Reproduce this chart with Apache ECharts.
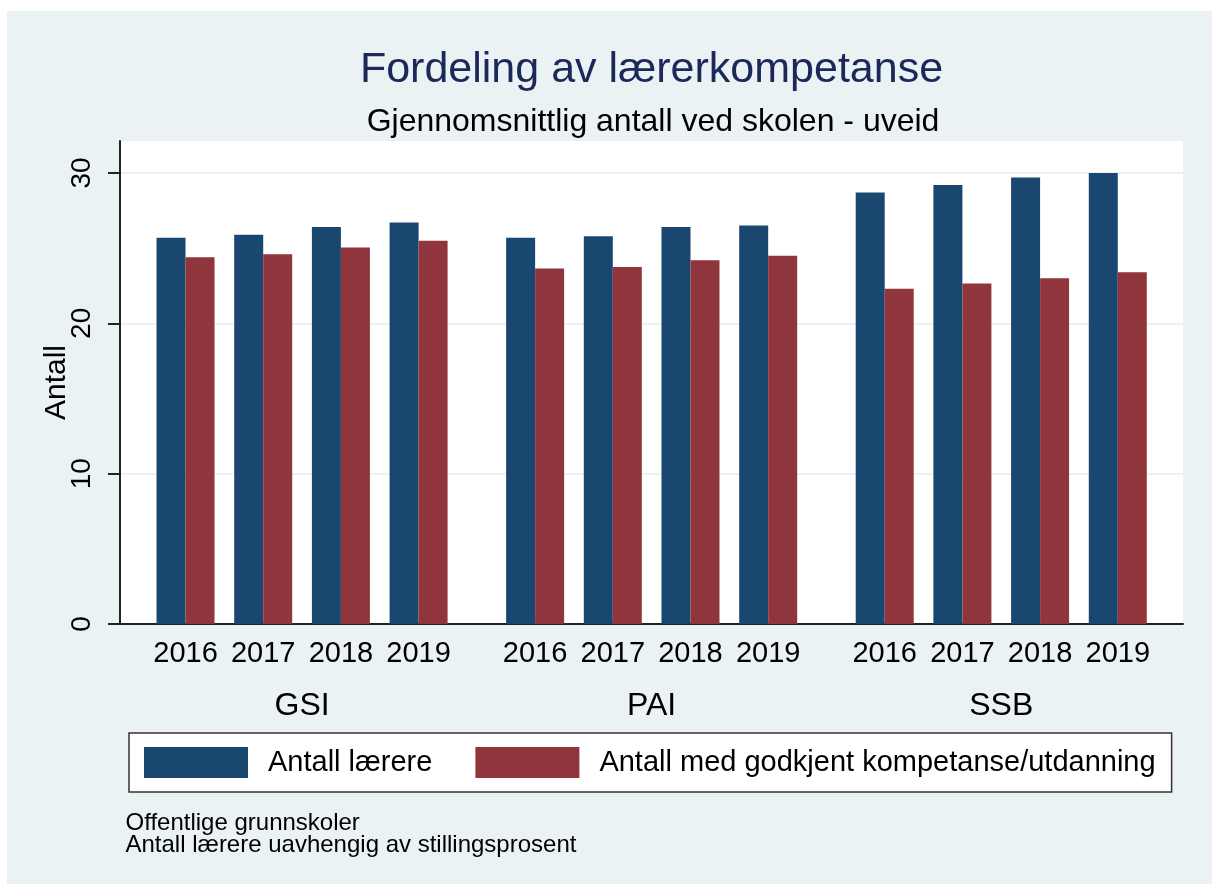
<!DOCTYPE html>
<html>
<head>
<meta charset="utf-8">
<script src="https://cdn.jsdelivr.net/npm/echarts@6/dist/echarts.min.js"></script>
<style>
  html, body { margin: 0; padding: 0; background: #fff; }
  #chart { position: absolute; left: 7px; top: 11px; width: 1205px; height: 873px; background: #EAF2F3; }
</style>
</head>
<body>
<div id="chart"></div>
<script>
  // data
  var groups = ['GSI', 'PAI', 'SSB'];
  var years = ['2016', '2017', '2018', '2019'];
  var laerere = [
    [25.7, 25.9, 26.4, 26.7],   // GSI
    [25.7, 25.8, 26.4, 26.5],   // PAI
    [28.7, 29.2, 29.7, 30.0]    // SSB
  ];
  var godkjent = [
    [24.4, 24.6, 25.05, 25.5],
    [23.65, 23.75, 24.2, 24.5],
    [22.3, 22.65, 23.0, 23.4]
  ];
  var yTicks = [0, 10, 20, 30];
  var seriesNames = ['Antall lærere', 'Antall med godkjent kompetanse/utdanning'];
  var notes = ['Offentlige grunnskoler', 'Antall lærere uavhengig av stillingsprosent'];

  // kategorier: år, mellomrom, år ... og to mellomrom mellom gruppene
  var cats = [], groupCats = [], s1 = [], s2 = [];
  groups.forEach(function (g, gi) {
    if (gi > 0) {
      for (var k = 0; k < 2; k++) { cats.push(''); groupCats.push(''); s1.push('-'); s2.push('-'); }
    }
    years.forEach(function (y, yi) {
      if (yi > 0) { cats.push(''); groupCats.push(''); s1.push('-'); s2.push('-'); }
      cats.push(y);
      groupCats.push('');
      s1.push(laerere[gi][yi]);
      s2.push(godkjent[gi][yi]);
    });
  });
  // gruppenavn midt i gruppen (mellomrommet mellom 2017 og 2018)
  groups.forEach(function (g, gi) { groupCats[gi * 9 + 3] = g; });

  var font = 'Liberation Sans, Arial, sans-serif';
  var dark = '#222';
  var chart = echarts.init(document.getElementById('chart'));
  chart.setOption({
    animation: false,
    textStyle: { fontFamily: font },
    title: [
      {
        text: 'Fordeling av lærerkompetanse',
        left: 639.5, top: 33, textAlign: 'center',
        textStyle: { fontSize: 43, fontWeight: 'normal', color: '#1c2859', fontFamily: font }
      },
      {
        text: 'Gjennomsnittlig antall ved skolen - uveid',
        left: 641, top: 90, textAlign: 'center',
        textStyle: { fontSize: 32, fontWeight: 'normal', color: '#000', fontFamily: font }
      },
      {
        text: notes.join('\n'),
        left: 118.5, top: 801, padding: 0,
        textStyle: { fontSize: 24, fontWeight: 'normal', color: '#000', lineHeight: 22, fontFamily: font }
      }
    ],
    legend: {
      left: 122, top: 722,
      padding: [14, 16, 14, 15],
      itemGap: 43,
      itemWidth: 104, itemHeight: 31,
      borderColor: '#333', borderWidth: 1.5,
      backgroundColor: '#fff',
      icon: 'rect',
      data: seriesNames,
      textStyle: { fontSize: 29, color: '#000', padding: [0, 0, 0, 15] }
    },
    grid: [
      // hvit plottflate
      { left: 113, top: 130, width: 1063, bottom: 260, show: true, backgroundColor: '#fff', borderWidth: 0 },
      // stolper
      { left: 159.1, right: 74.8, top: 162, bottom: 260 },
      // y-akse med skala
      { left: 113, top: 162, width: 1063, bottom: 260 }
    ],
    xAxis: [
      {
        gridIndex: 0, type: 'category', data: [''],
        axisLine: { lineStyle: { color: dark, width: 2 } },
        axisTick: { show: false }, axisLabel: { show: false }
      },
      {
        gridIndex: 1, type: 'category', data: cats,
        axisLine: { show: false }, axisTick: { show: false },
        axisLabel: { interval: 0, fontSize: 29, color: '#000', margin: 15 }
      },
      {
        gridIndex: 1, type: 'category', data: groupCats, position: 'bottom',
        axisLine: { show: false }, axisTick: { show: false },
        axisLabel: { interval: 0, fontSize: 32, color: '#000', margin: 66 }
      },
      {
        gridIndex: 2, type: 'category', data: [''], show: false
      }
    ],
    yAxis: [
      {
        gridIndex: 0, type: 'value', min: 0, max: 1,
        name: 'Antall', nameLocation: 'middle', nameRotate: 90, nameGap: 48,
        nameTextStyle: { fontSize: 30, color: '#000' },
        axisLine: { show: true, lineStyle: { color: dark, width: 2 } },
        axisTick: { show: false }, axisLabel: { show: false }, splitLine: { show: false }
      },
      {
        gridIndex: 1, type: 'value', min: 0, max: 30, interval: 10, show: false,
        splitLine: { show: false }
      },
      {
        gridIndex: 2, type: 'value', min: 0, max: 30, interval: 10,
        axisLine: { show: false },
        axisTick: { show: true, length: 12, lineStyle: { color: dark, width: 2 } },
        axisLabel: {
          rotate: 90, fontSize: 28, color: '#000', margin: 24,
          formatter: function (v) { return yTicks.indexOf(v) >= 0 ? String(v) : ''; }
        },
        splitLine: { show: true, lineStyle: { color: '#EAF2F3', width: 2 } }
      }
    ],
    series: [
      {
        name: seriesNames[0], type: 'bar', xAxisIndex: 1, yAxisIndex: 1,
        data: s1, barWidth: 29, barGap: '0%', clip: false,
        itemStyle: { color: '#1A476F' }
      },
      {
        name: seriesNames[1], type: 'bar', xAxisIndex: 1, yAxisIndex: 1,
        data: s2, barWidth: 29, barGap: '0%', clip: false,
        itemStyle: { color: '#90353B' }
      }
    ]
  });
</script>
</body>
</html>
